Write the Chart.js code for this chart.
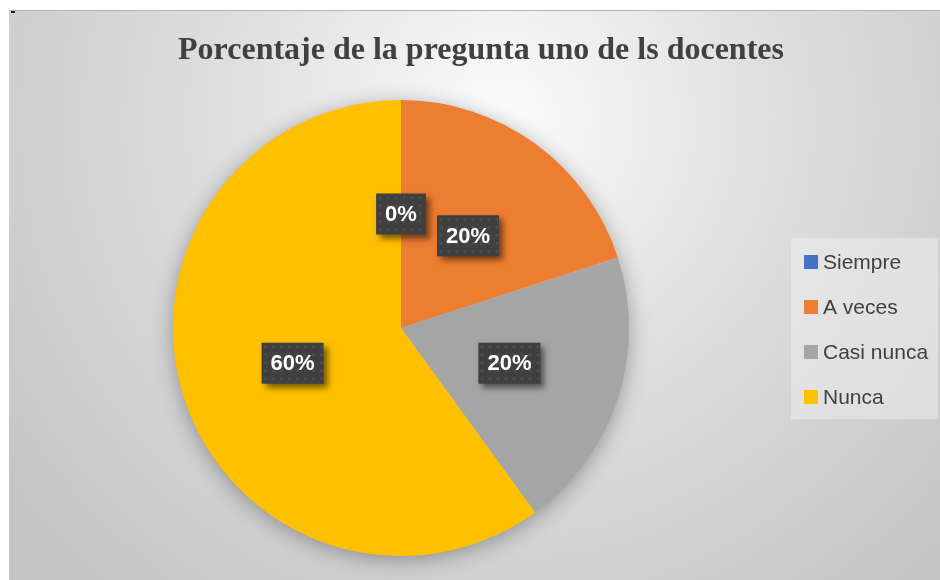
<!DOCTYPE html>
<html>
<head>
<meta charset="utf-8">
<script src="https://cdn.jsdelivr.net/npm/chart.js@4"></script>
<style>
	html, body { margin: 0; padding: 0; background: #fff; }
	#wrap { width: 940px; height: 580px; }
</style>
</head>
<body>
<div id="wrap"><canvas id="chart" width="940" height="580"></canvas></div>
<script>
/* global Chart */
const titulo = 'Porcentaje de la pregunta uno de ls docentes';
const etiquetas = ['Siempre', 'A veces', 'Casi nunca', 'Nunca'];
const valores = [0, 20, 20, 60];
const colores = ['#4472C4', '#ED7D31', '#A5A5A5', '#FFC000'];

// Fondo con degradado, titulo, leyenda y sombra del circulo
const fondo = {
	id: 'fondo',
	beforeDraw(chart) {
		const ctx = chart.ctx;
		ctx.save();
		ctx.fillStyle = '#ffffff';
		ctx.fillRect(0, 0, chart.width, chart.height);
		const g = ctx.createRadialGradient(500, 120, 20, 500, 120, 620);
		g.addColorStop(0, '#fafafa');
		g.addColorStop(0.4, '#e0e0e0');
		g.addColorStop(1, '#c4c4c4');
		ctx.fillStyle = g;
		ctx.fillRect(9, 10, chart.width - 9, chart.height - 10);
		ctx.strokeStyle = '#b4b4b4';
		ctx.lineWidth = 1;
		ctx.beginPath();
		ctx.moveTo(9, 10.5);
		ctx.lineTo(chart.width, 10.5);
		ctx.stroke();
		ctx.fillStyle = '#222';
		ctx.fillRect(11, 11, 4, 2);

		// titulo
		ctx.fillStyle = '#404040';
		ctx.font = 'bold 32px "Liberation Serif", "DejaVu Serif", serif';
		ctx.textAlign = 'center';
		ctx.textBaseline = 'middle';
		ctx.fillText(titulo, 481, 51);

		// leyenda
		ctx.fillStyle = 'rgba(240,240,240,0.5)';
		ctx.fillRect(791, 238, 147, 181);
		ctx.font = '21px "Liberation Sans", "Open Sans", sans-serif';
		ctx.textAlign = 'left';
		etiquetas.forEach((et, i) => {
			const y = 262 + i * 45;
			ctx.fillStyle = colores[i];
			ctx.fillRect(804, y - 7, 14, 14);
			ctx.fillStyle = '#404040';
			ctx.fillText(et, 823, y + 1);
		});
		ctx.restore();
	},
	beforeDatasetsDraw(chart) {
		const arc = chart.getDatasetMeta(0).data[0];
		if (!arc) return;
		const ctx = chart.ctx;
		ctx.save();
		ctx.shadowColor = 'rgba(0,0,0,0.35)';
		ctx.shadowBlur = 22;
		ctx.shadowOffsetY = 4;
		ctx.fillStyle = '#d0d0d0';
		ctx.beginPath();
		ctx.arc(arc.x, arc.y, arc.outerRadius - 1, 0, Math.PI * 2);
		ctx.fill();
		ctx.restore();
	}
};

// Etiquetas de porcentaje en cajas oscuras
const etiquetasDatos = {
	id: 'etiquetasDatos',
	afterDatasetsDraw(chart) {
		const ctx = chart.ctx;
		const meta = chart.getDatasetMeta(0);
		ctx.save();
		ctx.font = 'bold 22px "Liberation Sans", "Open Sans", sans-serif';
		ctx.textAlign = 'center';
		ctx.textBaseline = 'middle';
		meta.data.forEach((arc, i) => {
			const p = arc.tooltipPosition();
			const txt = valores[i] + '%';
			const w = ctx.measureText(txt).width + 18;
			const h = 41;
			const x = p.x - w / 2;
			const y = p.y - h / 2;
			ctx.save();
			ctx.shadowColor = 'rgba(0,0,0,0.5)';
			ctx.shadowBlur = 6;
			ctx.shadowOffsetX = 4;
			ctx.shadowOffsetY = 4;
			ctx.fillStyle = '#404040';
			ctx.fillRect(x, y, w, h);
			ctx.restore();
			// textura punteada
			ctx.fillStyle = 'rgba(255,255,255,0.07)';
			for (let yy = y + 4; yy < y + h; yy += 8) {
				for (let xx = x + 4; xx < x + w; xx += 8) {
					ctx.beginPath();
					ctx.arc(xx, yy, 1.5, 0, Math.PI * 2);
					ctx.fill();
				}
			}
			ctx.fillStyle = '#ffffff';
			ctx.fillText(txt, p.x, p.y + 1);
		});
		ctx.restore();
	}
};

const canvas = document.getElementById('chart');

const graph = new Chart(canvas, {
	type: 'pie',
	data: {
		labels: etiquetas,
		datasets: [{
			data: valores,
			backgroundColor: colores,
			borderWidth: 0
		}]
	},
	options: {
		responsive: false,
		animation: false,
		layout: {
			padding: { left: 173, right: 311, top: 100, bottom: 24 }
		},
		plugins: {
			legend: { display: false },
			title: { display: false },
			tooltip: { enabled: false }
		}
	},
	plugins: [fondo, etiquetasDatos]
});
</script>
</body>
</html>
